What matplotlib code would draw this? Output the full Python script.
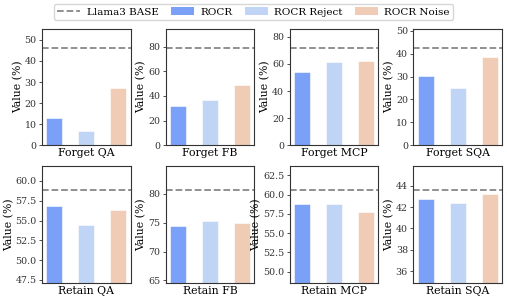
import matplotlib
matplotlib.use("Agg")
import matplotlib.pyplot as plt
from matplotlib.lines import Line2D
from matplotlib.patches import Patch
from matplotlib.ticker import MultipleLocator

plt.rcParams['font.family'] = 'DejaVu Serif'

methods = ['ROCR', 'ROCR Reject', 'ROCR Noise']
colors = ['#7aa0f8', '#c0d4f5', '#f0cbb5']

forget_tasks = ['Forget QA', 'Forget FB', 'Forget MCP', 'Forget SQA']
forget_base = [46.1, 78.7, 71.7, 42.4]
forget_rocr = [13.0, 31.5, 54.0, 30.1]
forget_reject = [6.8, 36.8, 61.3, 25.1]
forget_noise = [27.4, 48.6, 62.3, 38.4]

retain_tasks = ['Retain QA', 'Retain FB', 'Retain MCP', 'Retain SQA']
retain_base = [58.9, 80.7, 60.65, 43.63]
retain_rocr = [56.8, 74.4, 58.75, 42.8]
retain_reject = [54.4, 75.3, 58.75, 42.37]
retain_noise = [56.35, 74.9, 57.75, 43.18]
retain_steps = [2.5, 5, 2.5, 2]

fig, axes = plt.subplots(2, 4, figsize=(5.07, 3.02), dpi=100)
fig.subplots_adjust(left=0.083, right=0.99, top=0.905, bottom=0.063,
                    wspace=0.4, hspace=0.18)


def draw(ax, task, base, vals, lo, hi):
    for i, v in enumerate(vals):
        ax.bar(i, v, width=0.5, color=colors[i], edgecolor='white', linewidth=0.4)
    ax.axhline(base, color='#888888', linestyle='--', linewidth=1.3)
    ax.set_ylim(lo, hi)
    ax.set_xticks([1])
    ax.set_xticklabels([task], fontsize=7.8)
    ax.tick_params(axis='x', length=0, pad=2)
    ax.tick_params(axis='y', labelsize=6.8, length=2.5, pad=1.5, width=0.6, colors='#333333')
    ax.set_ylabel('Value (%)', fontsize=7.8, labelpad=1)
    for s in ax.spines.values():
        s.set_color('#333333')
        s.set_linewidth(0.8)


for j in range(4):
    vals = [forget_rocr[j], forget_reject[j], forget_noise[j]]
    draw(axes[0, j], forget_tasks[j], forget_base[j], vals, 0, forget_base[j] * 1.2)
    vals = [retain_rocr[j], retain_reject[j], retain_noise[j]]
    draw(axes[1, j], retain_tasks[j], retain_base[j], vals,
         retain_base[j] * 0.8, retain_base[j] * 1.05)
    axes[1, j].yaxis.set_major_locator(MultipleLocator(retain_steps[j]))

handles = [Line2D([0], [0], color='#888888', linestyle='--', linewidth=1.3)]
handles += [Patch(facecolor=c) for c in colors]
labels = ['Llama3 BASE'] + methods
fig.legend(handles, labels, loc='upper center', ncol=4, fontsize=7.5,
           bbox_to_anchor=(0.5, 1.005), frameon=True, handlelength=2.2,
           columnspacing=1.2, borderpad=0.35, handletextpad=0.6)

plt.savefig('out.png', dpi=100)
